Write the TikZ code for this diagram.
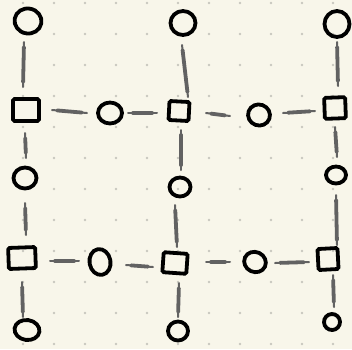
\documentclass[tikz,border=0pt]{standalone}
\usetikzlibrary{shapes.geometric}
\definecolor{paper}{RGB}{248,246,234}
\definecolor{griddot}{RGB}{200,199,190}
\definecolor{linkgray}{RGB}{98,98,98}
\tikzset{
  ring/.style={ellipse, draw=black, line width=3.8pt, inner sep=0pt},
  box/.style={rectangle, draw=black, line width=3.8pt, inner sep=0pt, rounded corners=1.5pt},
  link/.style={draw=linkgray, line width=2pt, line cap=round,
    postaction={draw=linkgray, line width=3.8pt, line cap=round, shorten <=5pt, shorten >=5pt}},
}
\begin{document}
\begin{tikzpicture}[x=1pt,y=-1pt]
\fill[paper] (0,0) rectangle (352,349);
\useasboundingbox (0,0) rectangle (352,349);
\foreach \i in {0,...,10}{
  \foreach \j in {0,...,11}{
    \fill[griddot] ({23+31*\i},{3+31*\j}) circle (1.3pt);
  }
}
% row 0
\node[ring, minimum width=27pt, minimum height=25pt, rotate=-10] (c1) at (28,21) {};
\node[ring, minimum width=25pt, minimum height=24pt] (c2) at (183,23) {};
\node[ring, minimum width=25pt, minimum height=26pt] (c3) at (337,24) {};
% row 1
\node[box, minimum width=26pt, minimum height=22pt] (s1) at (26,110) {};
\node[ring, minimum width=24pt, minimum height=21pt] (c4) at (110,113) {};
\node[box, minimum width=20pt, minimum height=19pt, rotate=-3] (s2) at (179,111) {};
\node[ring, minimum width=22pt, minimum height=21pt, rotate=-20] (c5) at (259,115) {};
\node[box, minimum width=21pt, minimum height=21pt, rotate=2] (s3) at (335,108) {};
% row 2
\node[ring, minimum width=23pt, minimum height=21pt] (c6) at (25,178) {};
\node[ring, minimum width=21pt, minimum height=19pt] (c7) at (180,187) {};
\node[ring, minimum width=20pt, minimum height=17pt] (c8) at (336,175) {};
% row 3
\node[box, minimum width=27pt, minimum height=21pt, rotate=2] (s4) at (22,258) {};
\node[ring, minimum width=21pt, minimum height=26pt, rotate=10] (c9) at (100,262) {};
\node[box, minimum width=24pt, minimum height=20pt, rotate=-4] (s5) at (175,263) {};
\node[ring, minimum width=22pt, minimum height=20pt, rotate=-25] (c10) at (255,262) {};
\node[box, minimum width=20pt, minimum height=21pt, rotate=3] (s6) at (328,259) {};
% row 4
\node[ring, minimum width=25pt, minimum height=20pt, rotate=-8] (c11) at (27,330) {};
\node[ring, minimum width=20pt, minimum height=19pt] (c12) at (178,331) {};
\node[ring, minimum width=16pt, minimum height=16pt, rotate=-20] (c13) at (332,322) {};
% vertical links
\draw[link] ([shift={(-4,21)}]c1.center) -- ([shift={(-3,-23)}]s1.center);
\draw[link] ([shift={(-1,22)}]c2.center) -- ([shift={(9,-14)}]s2.center);
\draw[link] ([shift={(0,18)}]c3.center) -- ([shift={(3,-22)}]s3.center);
\draw[link] ([shift={(-1,23)}]s1.center) -- ([shift={(1,-20)}]c6.center);
\draw[link] ([shift={(2,19)}]s2.center) -- ([shift={(1,-17)}]c7.center);
\draw[link] ([shift={(0,19)}]s3.center) -- ([shift={(1,-18)}]c8.center);
\draw[link] ([shift={(0,25)}]c6.center) -- ([shift={(4,-23)}]s4.center);
\draw[link] ([shift={(-5,18)}]c7.center) -- ([shift={(2,-16)}]s5.center);
\draw[link] ([shift={(0,20)}]c8.center) -- ([shift={(9,-14)}]s6.center);
\draw[link] ([shift={(0,24)}]s4.center) -- ([shift={(-4,-13)}]c11.center);
\draw[link] ([shift={(4,20)}]s5.center) -- ([shift={(0,-14)}]c12.center);
\draw[link] ([shift={(5,16)}]s6.center) -- ([shift={(2,-15)}]c13.center);
% horizontal links
\draw[link] ([shift={(26,0)}]s1.center) -- ([shift={(-23,0)}]c4.center);
\draw[link] ([shift={(18,0)}]c4.center) -- ([shift={(-22,2)}]s2.center);
\draw[link] ([shift={(27,2)}]s2.center) -- ([shift={(-29,1)}]c5.center);
\draw[link] ([shift={(24,-2)}]c5.center) -- ([shift={(-20,3)}]s3.center);
\draw[link] ([shift={(28,3)}]s4.center) -- ([shift={(-21,-1)}]c9.center);
\draw[link] ([shift={(26,3)}]c9.center) -- ([shift={(-22,4)}]s5.center);
\draw[link] ([shift={(31,-1)}]s5.center) -- ([shift={(-25,0)}]c10.center);
\draw[link] ([shift={(20,1)}]c10.center) -- ([shift={(-19,3)}]s6.center);
\end{tikzpicture}
\end{document}
